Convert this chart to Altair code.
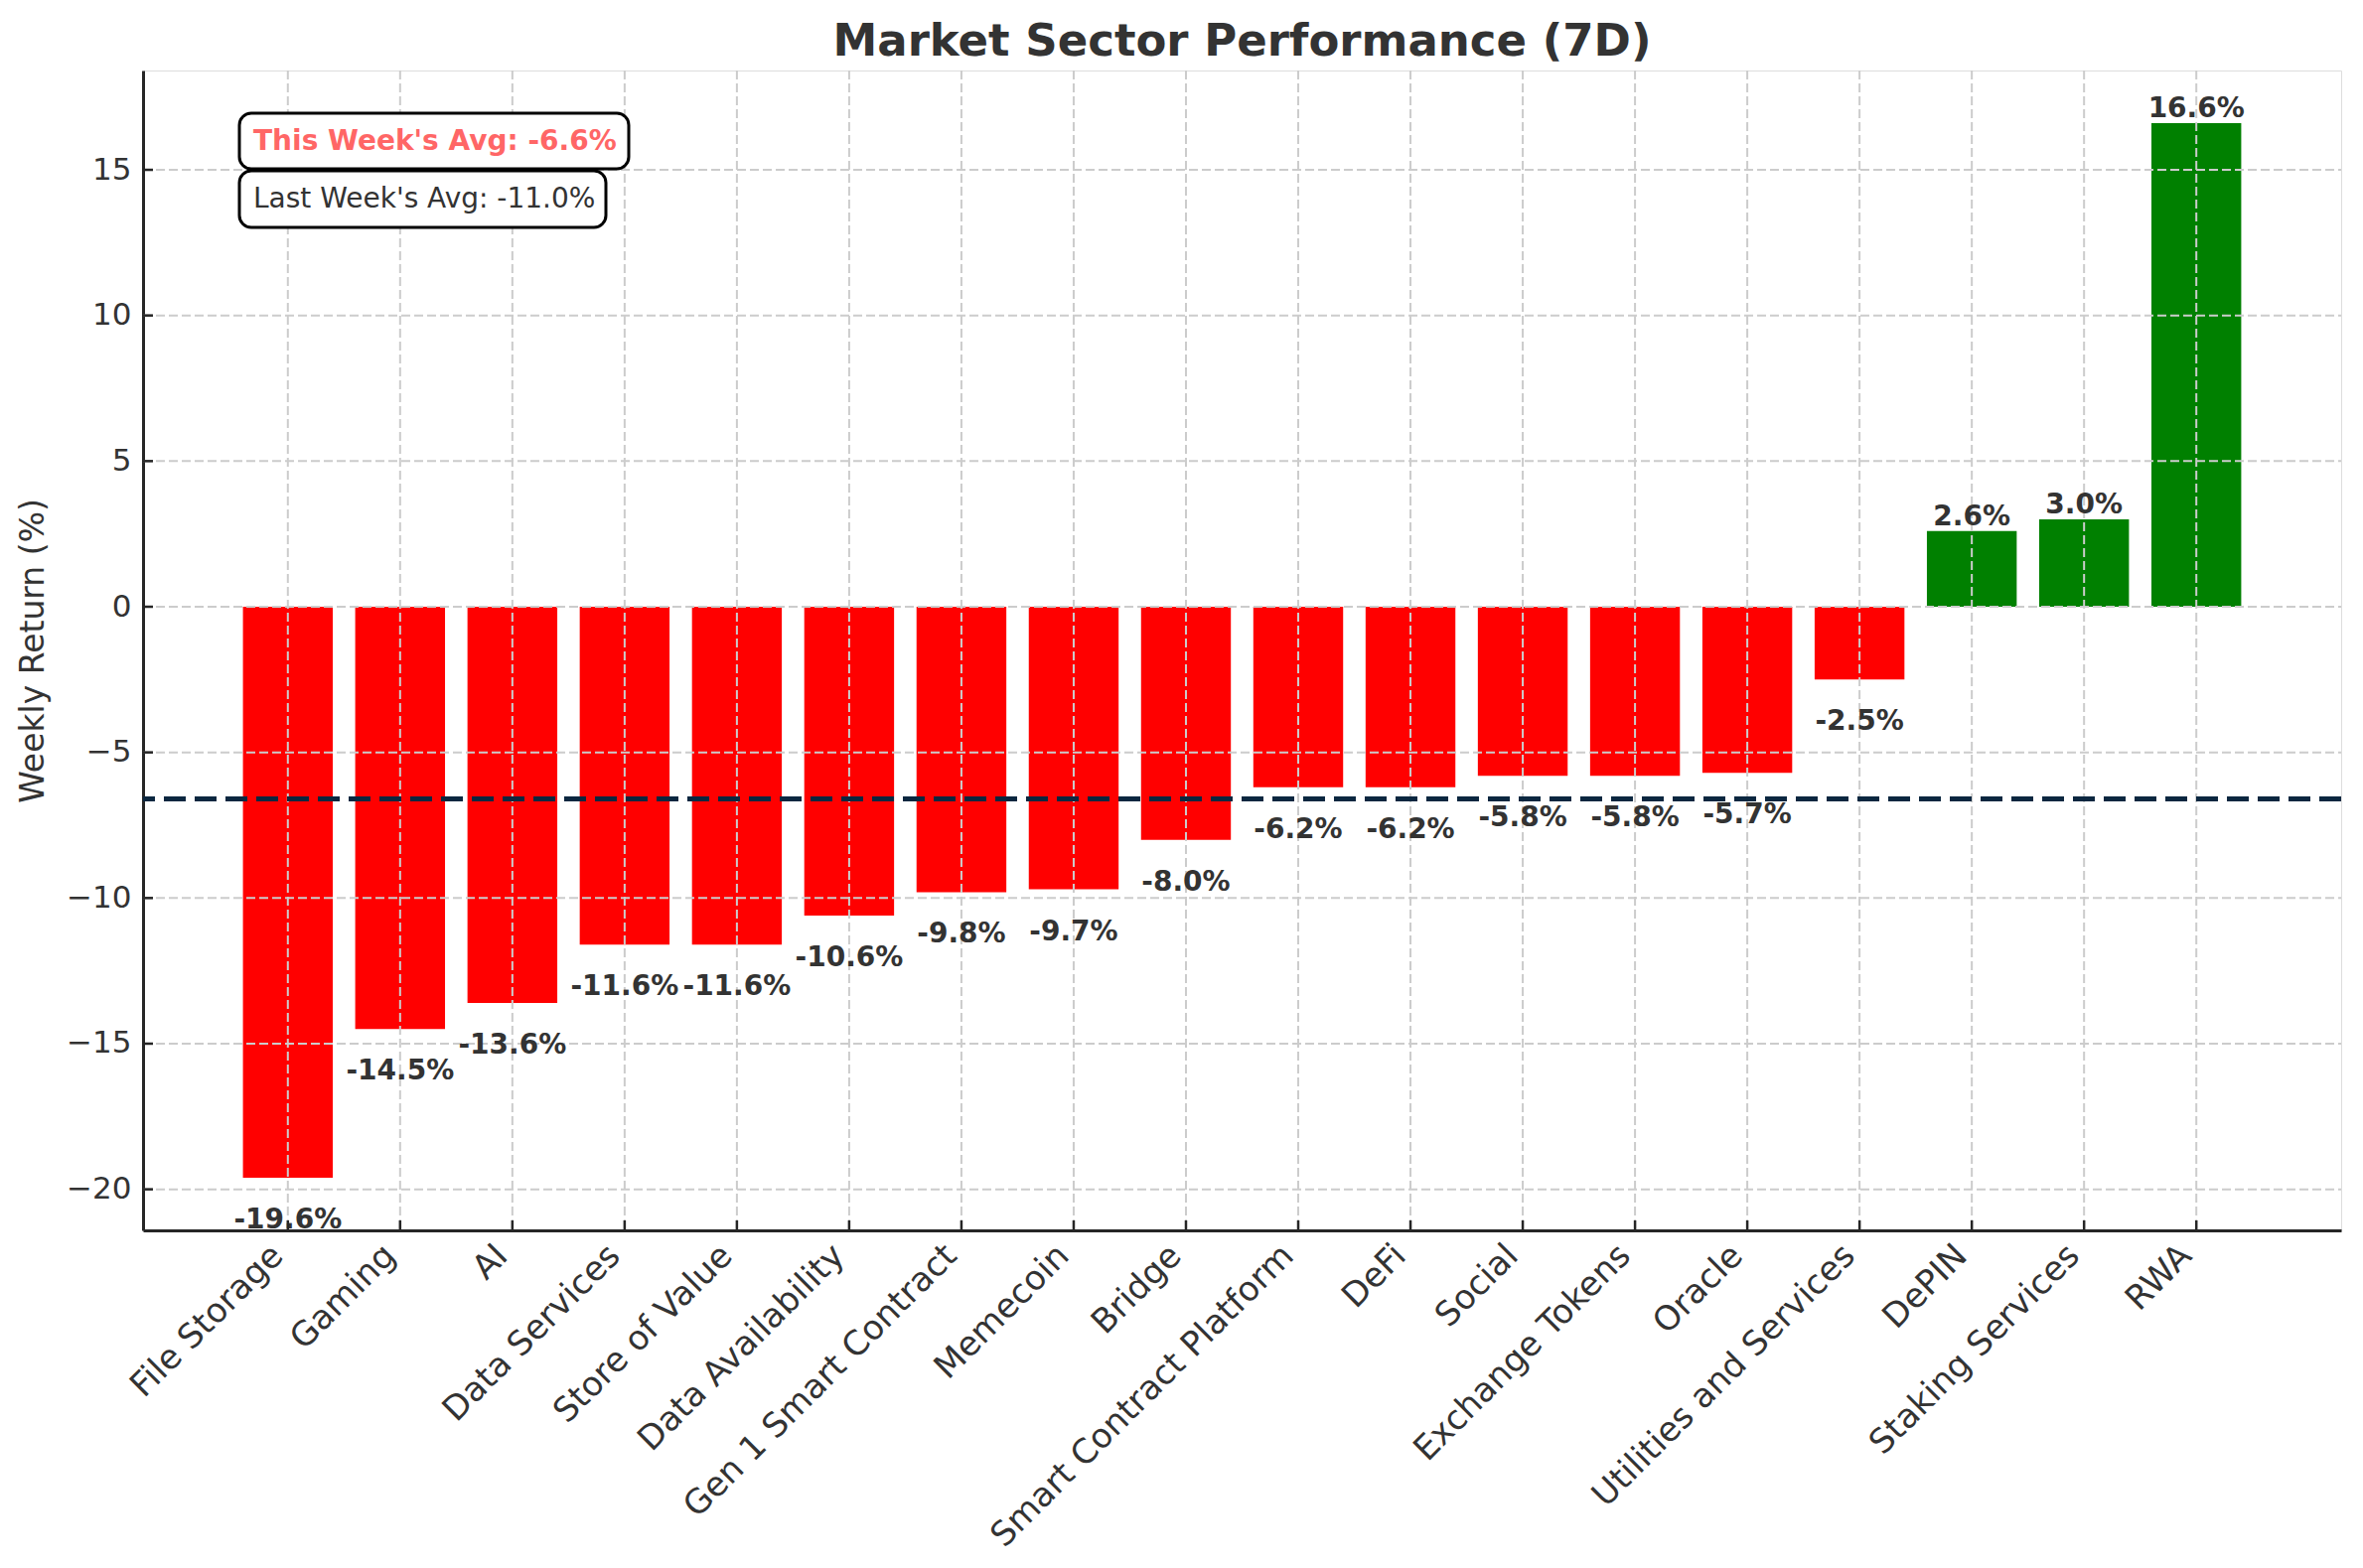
import altair as alt
import pandas as pd

# ---- data ----
categories = ["File Storage", "Gaming", "AI", "Data Services", "Store of Value",
              "Data Availability", "Gen 1 Smart Contract", "Memecoin", "Bridge",
              "Smart Contract Platform", "DeFi", "Social", "Exchange Tokens", "Oracle",
              "Utilities and Services", "DePIN", "Staking Services", "RWA"]
values = [-19.6, -14.5, -13.6, -11.6, -11.6, -10.6, -9.8, -9.7, -8.0,
          -6.2, -6.2, -5.8, -5.8, -5.7, -2.5, 2.6, 3.0, 16.6]
y_ticks = [-20, -15, -10, -5, 0, 5, 10, 15]
this_week_avg = -6.6
last_week_avg = -11.0

df = pd.DataFrame({"category": categories, "value": values,
                   "label": [f"{v:.1f}%" for v in values]})
ticks_df = pd.DataFrame({"tick": y_ticks})
avg_df = pd.DataFrame({"avg": [this_week_avg]})
this_df = pd.DataFrame({"text": [f"This Week's Avg: {this_week_avg:.1f}%"]})
last_df = pd.DataFrame({"text": [f"Last Week's Avg: {last_week_avg:.1f}%"]})

# ---- layout ----
W, H = 2213, 1168
FONT = "DejaVu Sans"
TXT = "#333333"
ydom = [-21.41, 18.41]

xscale = alt.Scale(paddingInner=0.2, paddingOuter=0.89)
yscale = alt.Scale(domain=ydom, nice=False, zero=False)

xenc = alt.X("category:N", sort=categories, scale=xscale,
             axis=alt.Axis(title=None, labelAngle=315, labelAlign="right",
                           labelBaseline="top", labelOffset=-22, labelPadding=8,
                           labelFontSize=34, labelFont=FONT, labelColor=TXT,
                           ticks=False, grid=False, domainColor="#262626",
                           domainWidth=3, labelLimit=1000))
yenc = alt.Y("value:Q", scale=yscale,
             axis=alt.Axis(title="Weekly Return (%)", values=y_ticks, ticks=False,
                           grid=False, labelFontSize=31, labelFont=FONT,
                           labelColor=TXT, labelPadding=12, titleFontSize=33,
                           titleFont=FONT, titleFontWeight="normal", titleColor=TXT,
                           titlePadding=16, domainColor="#262626", domainWidth=3))

base = alt.Chart(df)

bars = base.mark_bar().encode(
    x=xenc, y=yenc,
    color=alt.condition(alt.datum.value < 0, alt.value("#ff0000"), alt.value("#008000")),
)

xgrid = base.mark_rule(color="#cccccc", strokeWidth=2, strokeDash=[9, 4]).encode(
    x=alt.X("category:N", sort=categories), y=alt.value(0), y2=alt.value(H))

ygrid = alt.Chart(ticks_df).mark_rule(color="#cccccc", strokeWidth=2,
                                      strokeDash=[9, 4]).encode(
    y=alt.Y("tick:Q", scale=yscale), x=alt.value(0), x2=alt.value(W))

avg_line = alt.Chart(avg_df).mark_rule(color="#0b2740", strokeWidth=5,
                                       strokeDash=[22, 9]).encode(
    y=alt.Y("avg:Q", scale=yscale))

neg_labels = base.transform_filter(alt.datum.value < 0).mark_text(
    baseline="top", align="center", dy=29, fontSize=28, fontWeight="bold",
    font=FONT, color=TXT).encode(
    x=alt.X("category:N", sort=categories), y=alt.Y("value:Q", scale=yscale),
    text="label:N")

pos_labels = base.transform_filter(alt.datum.value >= 0).mark_text(
    baseline="alphabetic", align="center", dy=-6, fontSize=28, fontWeight="bold",
    font=FONT, color=TXT).encode(
    x=alt.X("category:N", sort=categories), y=alt.Y("value:Q", scale=yscale),
    text="label:N")

xticks = base.mark_rule(color="#262626", strokeWidth=2.5).encode(
    x=alt.X("category:N", sort=categories), y=alt.value(H - 10), y2=alt.value(H))
yticks = alt.Chart(ticks_df).mark_rule(color="#262626", strokeWidth=2.5).encode(
    y=alt.Y("tick:Q", scale=yscale), x=alt.value(0), x2=alt.value(10))

box1 = alt.Chart(this_df).mark_rect(fill="white", stroke="black", strokeWidth=3,
                                    cornerRadius=12).encode(
    x=alt.value(97), x2=alt.value(489), y=alt.value(43), y2=alt.value(99))
text1 = alt.Chart(this_df).mark_text(align="left", baseline="middle", fontSize=28,
                                     fontWeight="bold", font=FONT,
                                     color="#ff6666").encode(
    x=alt.value(111), y=alt.value(72), text="text:N")
box2 = alt.Chart(last_df).mark_rect(fill="white", stroke="black", strokeWidth=3,
                                    cornerRadius=12).encode(
    x=alt.value(97), x2=alt.value(466), y=alt.value(101), y2=alt.value(158))
text2 = alt.Chart(last_df).mark_text(align="left", baseline="middle", fontSize=28,
                                     font=FONT, color=TXT).encode(
    x=alt.value(111), y=alt.value(130), text="text:N")

chart = alt.layer(
    bars, xgrid, ygrid, avg_line, neg_labels, pos_labels, xticks, yticks,
    box1, text1, box2, text2
).properties(
    width=W, height=H,
    title=alt.TitleParams("Market Sector Performance (7D)", fontSize=45,
                          fontWeight="bold", font=FONT, color=TXT,
                          anchor="middle", offset=5),
    autosize=alt.AutoSizeParams(type="none"),
    padding={"left": 136, "top": 63, "right": 10, "bottom": 325},
).configure_view(stroke=None).configure(background="white")

chart.save("out.html", embed_options={"renderer": "svg", "actions": False})
